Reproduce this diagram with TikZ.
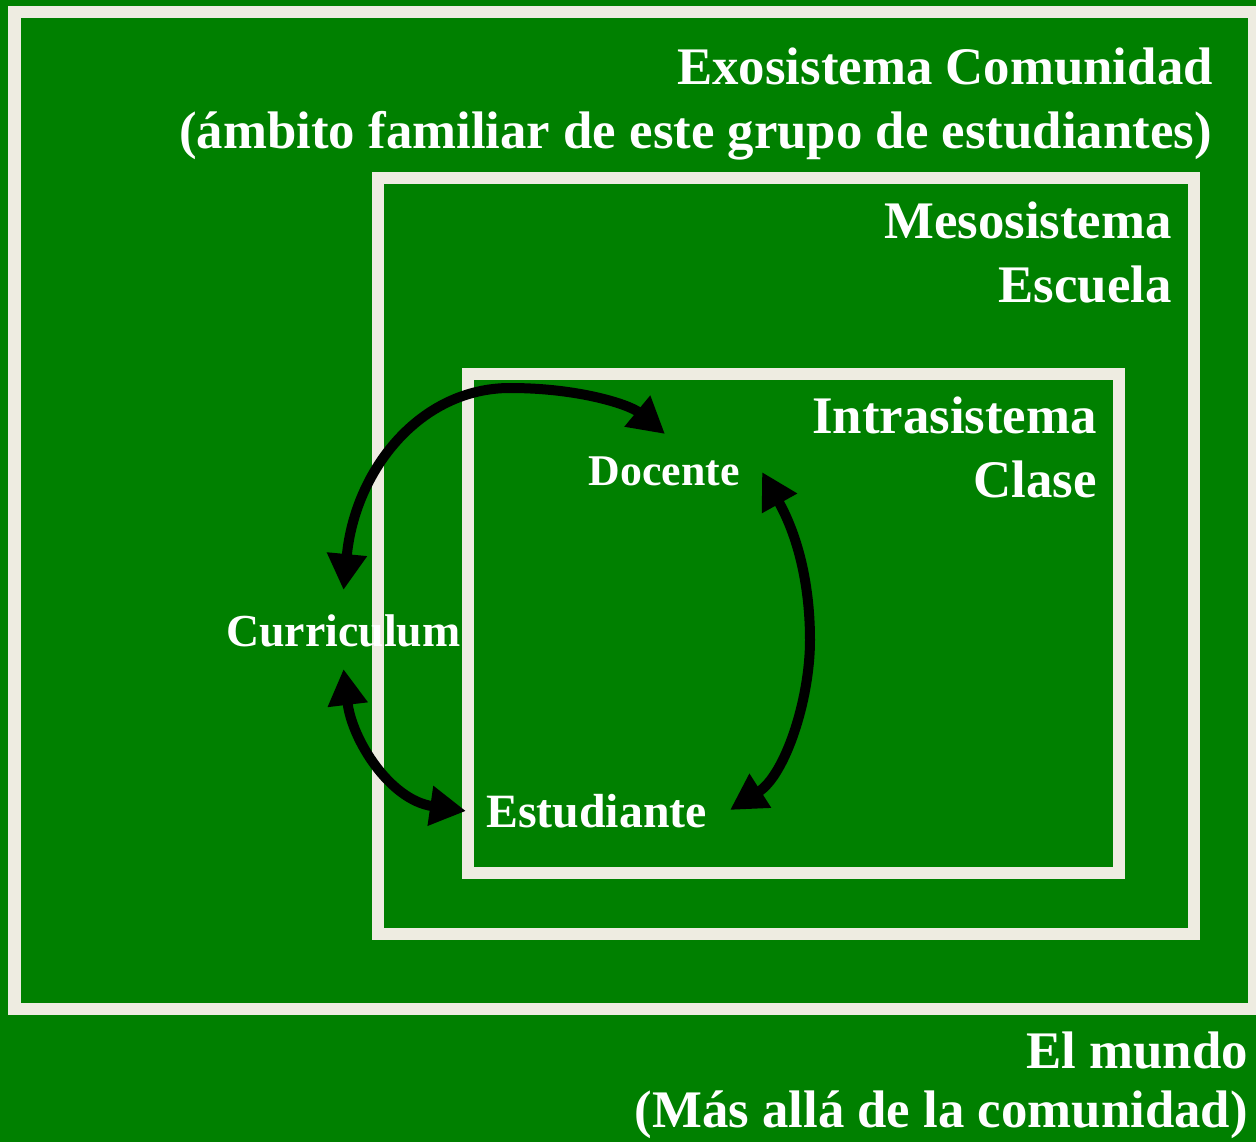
\documentclass[tikz,border=0pt]{standalone}
\usepackage{fontspec}
\setmainfont{Liberation Serif}
\usetikzlibrary{arrows.meta}
\definecolor{bggreen}{HTML}{008000}
\definecolor{framecol}{HTML}{EEECE1}
\begin{document}
\begin{tikzpicture}[x=1bp,y=-1bp,
  frameline/.style={draw=framecol,line width=12bp},
  title/.style={text=white,font=\bfseries\fontsize{53}{60}\selectfont,inner sep=0pt,anchor=base east},
  actor/.style={text=white,inner sep=0pt,anchor=base},
  link/.style={line width=10bp,draw=black,{Triangle[length=36bp,width=38bp]}-{Triangle[length=36bp,width=38bp]}}]
\useasboundingbox (0,0) rectangle (1256,1142);
\fill[bggreen] (0,0) rectangle (1256,1142);
\clip (0,0) rectangle (1256,1142);
% nested system frames
\draw[frameline] (14.5,11.5) rectangle (1254,1009);
\draw[frameline] (377.5,178) rectangle (1194,933.5);
\draw[frameline] (468,374) rectangle (1118.5,872.5);
% titles
\node[title] (exo1) at (1213,84) {Exosistema Comunidad};
\node[title] (exo2) at (1212,148) {(ámbito familiar de este grupo de estudiantes)};
\node[title] (meso1) at (1172,238) {Mesosistema};
\node[title] (meso2) at (1172,302) {Escuela};
\node[title] (intra1) at (1097,433) {Intrasistema};
\node[title] (intra2) at (1097,497) {Clase};
\node[title] (world1) at (1248,1068) {El mundo};
\node[title] (world2) at (1248,1127) {(Más allá de la comunidad)};
% actors
\node[actor,font=\bfseries\fontsize{44}{50}\selectfont] (doc) at (664,485) {Docente};
\node[actor,font=\bfseries\fontsize{46}{52}\selectfont] (cur) at (343.5,646) {Curriculum};
\node[actor,font=\bfseries\fontsize{48}{54}\selectfont] (est) at (596.5,827) {Estudiante};
% connectors
\draw[link] ([shift={(0,-56)}]cur.base) .. controls (355,470) and (420,388) .. (510,388)
  .. controls (580,388) and (630,405) .. ([shift={(1,-51)}]doc.base);
\draw[link] ([shift={(98,-13)}]doc.base) .. controls (800,540) and (810,590) .. (810,640)
  .. controls (810,700) and (785,775) .. ([shift={(133.5,-17)}]est.base);
\draw[link] ([shift={(0,23)}]cur.base) .. controls (352,740) and (390,800) .. ([shift={(-130.5,-16)}]est.base);
\end{tikzpicture}
\end{document}
